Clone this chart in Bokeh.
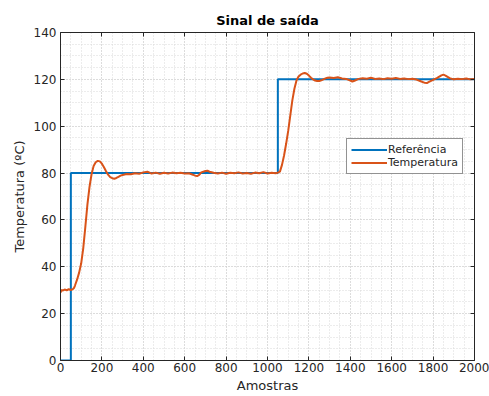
from bokeh.plotting import figure
from bokeh.models import Range1d, FixedTicker, LinearAxis, Legend, LegendItem
from bokeh.embed import file_html
from bokeh.resources import INLINE

title = "Sinal de saída"
x_label = "Amostras"
y_label = "Temperatura (ºC)"

x_ticks = [0, 200, 400, 600, 800, 1000, 1200, 1400, 1600, 1800, 2000]
y_ticks = [0, 20, 40, 60, 80, 100, 120, 140]
x_minor = list(range(0, 2001, 50))
y_minor = list(range(0, 141, 5))

ref_x = [0, 50, 50, 1050, 1050, 2000]
ref_y = [0, 0, 80, 80, 120, 120]

temp_x = [0, 5, 10, 20, 30, 40, 50, 60, 65, 70, 80, 90, 100, 110, 120, 130, 140, 150,
          160, 170, 180, 190, 200, 210, 220, 230, 240, 250, 260, 270, 280, 290, 300,
          320, 340, 360, 380, 400, 420, 440, 460, 480, 500, 520, 540, 560, 580, 600,
          620, 640, 650, 660, 670, 680, 700, 710, 720, 740, 760, 780, 800, 820, 840,
          860, 880, 900, 920, 940, 960, 980, 1000, 1020, 1040, 1050, 1060, 1070, 1080,
          1090, 1100, 1110, 1120, 1130, 1140, 1150, 1160, 1170, 1180, 1190, 1200, 1210,
          1220, 1230, 1240, 1250, 1260, 1270, 1280, 1290, 1300, 1320, 1340, 1360, 1380,
          1400, 1410, 1420, 1440, 1460, 1480, 1500, 1520, 1540, 1560, 1580, 1600, 1620,
          1640, 1660, 1680, 1700, 1720, 1740, 1760, 1770, 1780, 1800, 1820, 1840, 1850,
          1860, 1880, 1900, 1920, 1940, 1960, 1980, 2000]
temp_y = [29.0, 30.2, 29.8, 30.3, 30.0, 30.4, 30.1, 30.5, 30.9, 32.0, 34.5, 37.5, 41.5, 48.0,
          57.0, 66.5, 74.0, 79.5, 83.0, 84.6, 85.2, 85.0, 84.0, 82.5, 80.8, 79.3, 78.3,
          77.8, 77.6, 77.9, 78.4, 78.9, 79.2, 79.6, 79.5, 79.9, 79.7, 80.3, 80.6, 79.8,
          80.2, 79.7, 80.1, 79.8, 80.2, 79.9, 80.1, 79.8, 79.9, 79.3, 78.9, 78.7, 79.2,
          80.3, 80.9, 81.0, 80.6, 80.1, 79.8, 80.2, 79.7, 80.1, 79.9, 80.3, 79.8, 80.0,
          79.7, 80.2, 79.9, 80.4, 79.8, 80.1, 79.9, 80.2, 80.6, 83.5, 87.5, 92.5, 98.0,
          104.5, 111.0, 116.0, 119.5, 121.2, 122.0, 122.5, 122.7, 122.4, 121.6, 120.7,
          120.0, 119.5, 119.3, 119.3, 119.6, 120.0, 120.4, 120.7, 120.8, 120.6, 120.9,
          120.4, 120.2, 119.5, 119.1, 119.4, 120.2, 120.5, 120.3, 120.7, 120.2, 120.4,
          120.1, 120.5, 120.3, 120.6, 120.2, 120.4, 120.1, 120.3, 119.9, 119.2, 118.5,
          118.4, 118.9, 119.8, 120.6, 121.7, 122.0, 121.6, 120.5, 120.0, 120.3, 120.1,
          120.4, 120.0, 120.2]

FONT = "DejaVu Sans"
TXT = "#262626"

p = figure(width=489, height=396, output_backend="svg", toolbar_location=None,
           x_range=Range1d(0, 2000), y_range=Range1d(0, 140),
           min_border_left=60, min_border_right=15, min_border_top=32, min_border_bottom=36)
p.title.text = title
p.title.align = "center"
p.title.text_font = FONT
p.title.text_font_size = "13px"
p.title.text_font_style = "bold"
p.title.text_color = "black"

p.xaxis.ticker = FixedTicker(ticks=x_ticks, minor_ticks=x_minor)
p.yaxis.ticker = FixedTicker(ticks=y_ticks, minor_ticks=y_minor)
p.xaxis.axis_label = x_label
p.yaxis.axis_label = y_label
for ax in [p.xaxis[0], p.yaxis[0]]:
    ax.axis_label_text_font = FONT
    ax.axis_label_text_font_size = "13px"
    ax.axis_label_text_font_style = "normal"
    ax.axis_label_text_color = TXT
    ax.major_label_text_font = FONT
    ax.major_label_text_font_size = "12px"
    ax.major_label_text_color = TXT
    ax.axis_line_color = TXT
    ax.major_tick_line_color = TXT
    ax.major_tick_in = 4
    ax.major_tick_out = 0
    ax.minor_tick_in = 0
    ax.minor_tick_out = 0
p.xaxis[0].major_label_standoff = 2
p.xaxis[0].axis_label_standoff = 3
p.yaxis[0].major_label_standoff = 4
p.yaxis[0].axis_label_standoff = 4

for side, tick in [("right", y_ticks), ("above", x_ticks)]:
    a = LinearAxis(ticker=FixedTicker(ticks=tick), major_label_text_font_size="0px",
                   major_label_text_color=None, major_label_standoff=0,
                   axis_line_color=TXT, major_tick_line_color=TXT,
                   major_tick_in=4, major_tick_out=0, minor_tick_in=0, minor_tick_out=0)
    p.add_layout(a, side)

for g in [p.xgrid[0], p.ygrid[0]]:
    g.grid_line_color = "#cccccc"
    g.grid_line_dash = "1 2"
    g.grid_line_alpha = 1.0
    g.minor_grid_line_color = "#d8d8d8"
    g.minor_grid_line_dash = "1 2"
p.xgrid[0].ticker = FixedTicker(ticks=x_ticks, minor_ticks=x_minor)
p.ygrid[0].ticker = FixedTicker(ticks=y_ticks, minor_ticks=y_minor)

p.outline_line_color = None
p.background_fill_color = "white"

r1 = p.line(ref_x, ref_y, line_color="#0072BD", line_width=2)
r2 = p.line(temp_x, temp_y, line_color="#D95319", line_width=2)

legend = Legend(items=[LegendItem(label="Referência", renderers=[r1]),
                       LegendItem(label="Temperatura", renderers=[r2])],
                location=(286, 186), label_text_font=FONT, label_text_font_size="11px",
                label_text_color=TXT, border_line_color=TXT, border_line_width=1,
                glyph_width=36, glyph_height=13, label_height=13, spacing=0,
                padding=4, margin=0, label_standoff=1, background_fill_alpha=1)
p.add_layout(legend, "center")

open("out.html", "w").write(file_html(p, INLINE))
